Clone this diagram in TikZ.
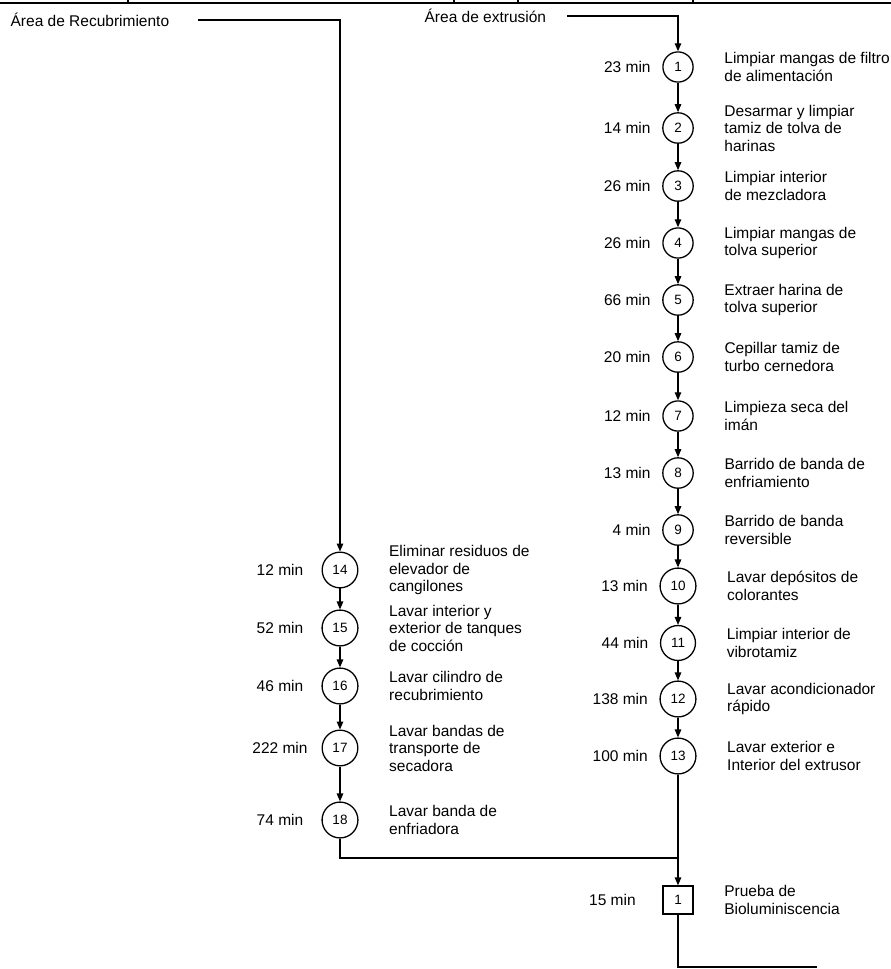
\documentclass[tikz,border=0pt]{standalone}
\usepackage{fontspec}
\setmainfont{Liberation Sans}
\usetikzlibrary{arrows.meta,positioning}

\begin{document}
\begin{tikzpicture}[x=1pt,y=-1pt,line width=1.3pt,
		>={Triangle[length=8pt,width=6.5pt]},
		paso/.style={circle,draw,minimum size=28pt,inner sep=6.5pt,font=\fontsize{13.5}{13.5}\selectfont},
		cuadro/.style={draw,minimum width=30pt,minimum height=28pt,inner sep=0pt,font=\fontsize{13.5}{13.5}\selectfont},
		texto/.style={inner sep=0pt,align=left,font=\fontsize{15.5}{17.5}\selectfont}]
	\useasboundingbox (0,0) rectangle (891,969);
	% borde de la tabla
	\draw (0,3) -- (891,3);
	\foreach \x in {128,454,518,693} \draw (\x,0) -- (\x,3);
	\node[texto,anchor=west] (recub) at (10,20) {Área de Recubrimiento};
	\node[texto,anchor=west] (extr) at (424,16) {Área de extrusión};
	% área de extrusión
	\foreach \n/\y/\t/\d in {1/67/23/{Limpiar mangas de filtro\\de alimentación},
			2/128/14/{Desarmar y limpiar\\tamiz de tolva de\\harinas},
			3/186/26/{Limpiar interior\\de mezcladora},
			4/243/26/{Limpiar mangas de\\tolva superior},
			5/300/66/{Extraer harina de\\tolva superior},
			6/357/20/{Cepillar tamiz de\\turbo cernedora},
			7/416/12/{Limpieza seca del\\imán},
			8/473/13/{Barrido de banda de\\enfriamiento},
			9/530/4/{Barrido de banda\\reversible},
			10/586/13/{Lavar depósitos de\\colorantes},
			11/643/44/{Limpiar interior de\\vibrotamiz},
			12/699/138/{Lavar acondicionador\\rápido},
			13/756/100/{Lavar exterior e\\Interior del extrusor}}{
		\node[paso] (c\n) at (678,\y) {\n};
		\node[texto,left=11pt of c\n] (t\n) {\t\ min};
		\node[texto,right=30pt of c\n] (d\n) {\d};
	}
	% área de recubrimiento
	\foreach \n/\y/\t/\d in {14/570/12/{Eliminar residuos de\\elevador de\\cangilones},
			15/628/52/{Lavar interior y\\exterior de tanques\\de cocción},
			16/686/46/{Lavar cilindro de\\recubrimiento},
			17/748/222/{Lavar bandas de\\transporte de\\secadora},
			18/820/74/{Lavar banda de\\enfriadora}}{
		\node[paso] (c\n) at (340,\y) {\n};
		\node[texto] (t\n) at (280,\y) {\t\ min};
		\node[texto,right=30pt of c\n] (d\n) {\d};
	}
	\node[cuadro] (bio) at (678,900) {1};
	\node[texto,left=26pt of bio] (tbio) {15 min};
	\node[texto,right=30pt of bio] (dbio) {Prueba de\\Bioluminiscencia};

	\draw[->] ([xshift=20pt]extr.east) -| (c1);
	\draw[->] ([xshift=28pt]recub.east) -| (c14);
	\foreach \a [evaluate=\a as \b using int(\a+1)] in {1,...,12,14,15,16,17}
		\draw[->] (c\a) -- (c\b);
	\coordinate (union) at (678,858);
	\coordinate (fin) at (817,967);
	\draw (c18) |- (union);
	\draw[->] (c13) -- (bio);
	\draw (bio) |- (fin);
\end{tikzpicture}
\end{document}
